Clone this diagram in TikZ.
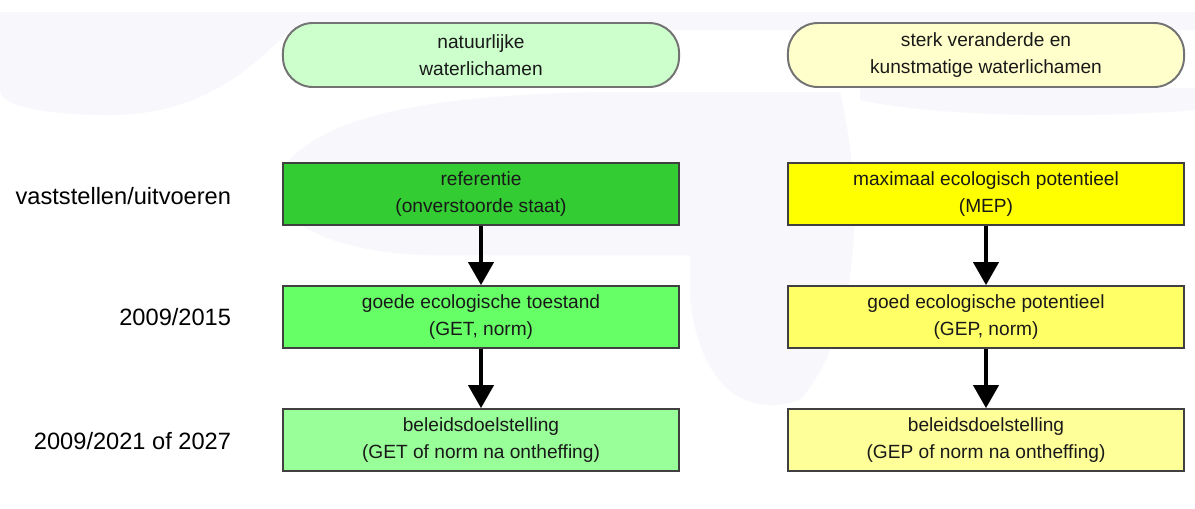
\documentclass[tikz,border=0pt]{standalone}
\usepackage{fontspec}
\setmainfont{Liberation Sans}
\usetikzlibrary{arrows.meta}

\definecolor{dotshade}{RGB}{248,247,252}
\definecolor{natgreen}{RGB}{204,255,204}
\definecolor{kunstyellow}{RGB}{255,255,204}
\definecolor{refgreen}{RGB}{51,204,51}
\definecolor{getgreen}{RGB}{102,255,102}
\definecolor{doelgreen}{RGB}{153,255,153}
\definecolor{mepyellow}{RGB}{255,255,0}
\definecolor{gepyellow}{RGB}{255,255,102}
\definecolor{doelyellow}{RGB}{255,255,153}

\begin{document}
\begin{tikzpicture}[
			x=0.025cm, y=-0.025cm,
			every node/.style={font=\fontsize{13.6}{19.2}\selectfont, text=black!90, align=center},
			typebox/.style={draw=black!55, line width=1.4pt, rounded corners=0.75cm, minimum width=9.9cm, minimum height=1.6cm},
			statebox/.style={draw=black!75, line width=1.2pt, minimum width=9.9cm, minimum height=1.55cm},
			yearlabel/.style={anchor=east, font=\fontsize{16.8}{20}\selectfont, text=black},
			flowarrow/.style={line width=2.85pt, -{Triangle[width=6.25mm,length=5.75mm]}}
			]

				\useasboundingbox (0,0) rectangle (1195,508);
				\fill[white] (0,0) rectangle (1195,508);

				% faint watermark behind the scheme
				\fill[dotshade] (0,12) -- (1195,12) -- (1195,30) -- (290,30) .. controls (250,70) and (200,115) .. (110,115) .. controls (40,115) and (0,105) .. (0,90) -- cycle;
				\fill[dotshade] (285,165) .. controls (330,110) and (450,95) .. (600,92) -- (840,92) .. controls (865,200) and (860,330) .. (800,400) .. controls (740,420) and (700,380) .. (690,300) -- (690,255) -- (430,255) .. controls (380,255) and (290,240) .. (285,200) -- cycle;
				\fill[dotshade] (860,88) -- (1195,88) -- (1195,110) .. controls (1100,118) and (940,118) .. (860,100) -- cycle;

				\node[typebox, fill=natgreen] (natuur) at (481,55) {natuurlijke\\waterlichamen};
				\node[typebox, fill=kunstyellow] (kunst) at (986,55) {sterk veranderde en\\kunstmatige waterlichamen};

				\node[statebox, fill=refgreen] (ref) at (481,194) {referentie\\(onverstoorde staat)};
				\node[statebox, fill=getgreen] (get) at (481,317) {goede ecologische toestand\\(GET, norm)};
				\node[statebox, fill=doelgreen] (doelnat) at (481,440) {beleidsdoelstelling\\(GET of norm na ontheffing)};

				\node[statebox, fill=mepyellow] (mep) at (986,194) {maximaal ecologisch potentieel\\(MEP)};
				\node[statebox, fill=gepyellow] (gep) at (986,317) {goed ecologische potentieel\\(GEP, norm)};
				\node[statebox, fill=doelyellow] (doelkunst) at (986,440) {beleidsdoelstelling\\(GEP of norm na ontheffing)};

				\node[yearlabel] (lblvast) at (236,196) {vaststellen/uitvoeren};
				\node[yearlabel] (lbl2015) at (236,317) {2009/2015};
				\node[yearlabel] (lbl2027) at (236,441) {2009/2021 of 2027};

				\draw[flowarrow] (ref) -- (get);
				\draw[flowarrow] (get) -- (doelnat);
				\draw[flowarrow] (mep) -- (gep);
				\draw[flowarrow] (gep) -- (doelkunst);

			\end{tikzpicture}
\end{document}
